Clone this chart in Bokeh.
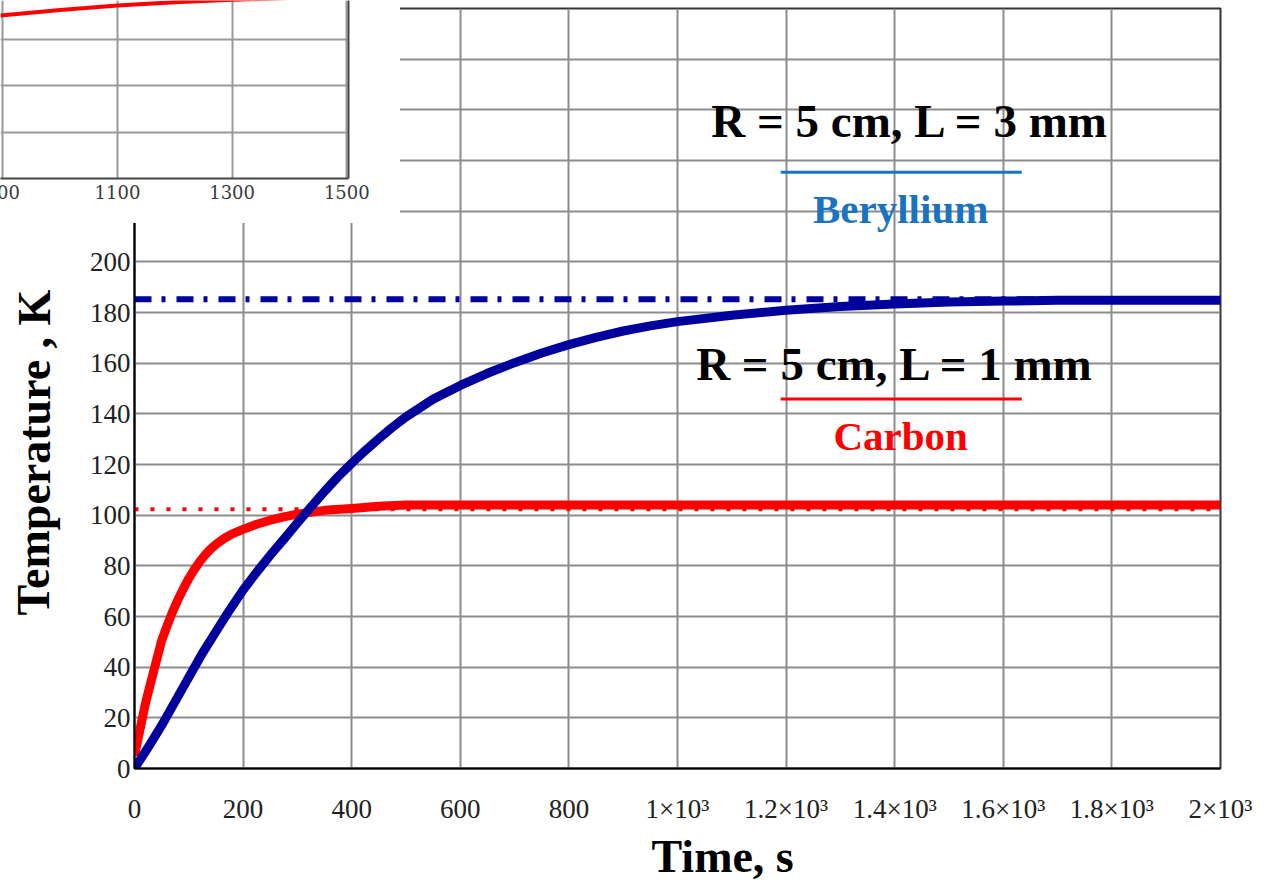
from bokeh.plotting import figure
from bokeh.models import Range1d, FixedTicker, Label, LinearAxis, Span, Title
from bokeh.layouts import column
from bokeh.embed import file_html
from bokeh.resources import INLINE

# Heating of a disc (R = 5 cm): temperature rise vs time
# Beryllium, L = 3 mm
be_time = [0, 25, 50, 75, 100, 125, 150, 175, 200, 225, 250, 275, 300, 325, 350, 375,
           400, 425, 450, 475, 500, 550, 600, 650, 700, 750, 800, 850, 900, 950, 1000,
           1100, 1200, 1300, 1400, 1500, 1600, 1700, 1800, 1900, 2000]
be_temp = [0, 8.3, 17, 26.5, 36, 45.5, 54, 62.5, 70.5, 77.5, 84.2, 90.5, 97, 103.2, 109.4,
           115.2, 120.5, 125.5, 130.2, 134.7, 138.8, 145.8, 151.2, 156, 160.2, 164, 167.3,
           170.2, 172.7, 174.7, 176.4, 178.9, 180.9, 182.4, 183.4, 184.1, 184.5, 184.8,
           184.8, 184.8, 184.8]

# Carbon, L = 1 mm
c_time = [0, 10, 20, 30, 40, 50, 60, 70, 80, 90, 100, 110, 120, 130, 140, 150, 165, 180,
          200, 225, 250, 275, 300, 350, 400, 450, 500, 600, 800, 1000, 1200, 1400, 1600,
          1800, 2000]
c_temp = [5, 15.3, 25.5, 34, 42.2, 50.5, 56.3, 61.8, 66.6, 71, 75, 78.5, 81.6, 84.3, 86.6,
          88.5, 90.8, 92.6, 94.4, 96.4, 98, 99.3, 100.4, 101.9, 102.6, 103.5, 104, 104, 104,
          104, 104, 104, 104, 104, 104]

# steady-state temperatures
be_steady = 185.2
c_steady = 102.3

x_ticks = [0, 200, 400, 600, 800, 1000, 1200, 1400, 1600, 1800, 2000]
x_tick_labels = ["0", "200", "400", "600", "800", "1×10³", "1.2×10³", "1.4×10³",
                 "1.6×10³", "1.8×10³", "2×10³"]
y_ticks = [0, 20, 40, 60, 80, 100, 120, 140, 160, 180, 200, 220]
y_grid = [0, 20, 40, 60, 80, 100, 120, 140, 160, 180, 200, 220, 240, 260, 280, 300]

# small chart pasted at the top-left corner
inset_x = [896, 1000, 1100, 1200, 1300, 1400]
inset_y = [3.52, 3.64, 3.74, 3.81, 3.86, 3.90]
inset_ticks = [900, 1100, 1300, 1500]
inset_grid_y = [1, 2, 3]

SERIF = "Liberation Serif"
NAVY = "#00009C"
RED = "#FF0000"
LIGHT_BLUE = "#1A73C1"
GRID = "#8C8C8C"

# ---------------- main chart ----------------
p = figure(width=1266, height=884, x_range=Range1d(0, 2000), y_range=Range1d(0, 300),
           output_backend="svg", toolbar_location=None,
           min_border_left=134, min_border_right=46, min_border_top=8, min_border_bottom=116,
           background_fill_color="white", border_fill_color="white")
p.frame_align = False
p.outline_line_color = "#333333"
p.outline_line_width = 2

xa = p.xaxis[0]
ya = p.yaxis[0]
xa.ticker = FixedTicker(ticks=x_ticks)
xa.major_label_overrides = {t: s for t, s in zip(x_ticks, x_tick_labels)}
ya.ticker = FixedTicker(ticks=y_ticks)
for ax in (xa, ya):
    ax.axis_line_color = "black"
    ax.axis_line_width = 2
    ax.major_tick_line_color = None
    ax.minor_tick_line_color = None
    ax.major_tick_out = 0
    ax.major_tick_in = 0
    ax.major_label_text_font = SERIF
    ax.major_label_text_font_size = "27px"
    ax.major_label_text_color = "#222222"
xa.major_label_standoff = 25
ya.major_label_standoff = 4

p.xgrid.ticker = FixedTicker(ticks=x_ticks)
p.ygrid.ticker = FixedTicker(ticks=y_grid)
p.grid.grid_line_color = GRID
p.grid.grid_line_width = 2

# x axis title
p.add_layout(Title(text="Time, s", align="left", offset=517, standoff=5,
                   vertical_align="bottom",
                   text_font=SERIF, text_font_style="bold", text_font_size="46px",
                   text_color="black"), "below")

# steady-state reference levels, drawn beneath the curves
p.add_layout(Span(location=be_steady, dimension="width", line_color=NAVY, line_width=6,
                  line_dash="17 10 4 11", level="underlay"))
p.add_layout(Span(location=c_steady, dimension="width", line_color=RED, line_width=4,
                  line_dash="4 12", level="underlay"))

p.line(c_time, c_temp, line_color=RED, line_width=9, line_join="round")
p.line(be_time, be_temp, line_color=NAVY, line_width=9, line_join="round")

# case captions with coloured key lines
captions = [
    (1429, 255.4, "R = 5 cm, L = 3 mm", "black", "47px"),
    (1411, 220.7, "Beryllium", LIGHT_BLUE, "41px"),
    (1401, 159.8, "R = 5 cm, L = 1 mm", "black", "47px"),
    (1411, 131.4, "Carbon", RED, "41px"),
]
for cx, cy, txt, col, size in captions:
    p.add_layout(Label(x=cx, y=cy, text=txt, text_color=col, text_font=SERIF,
                       text_font_style="bold", text_font_size=size,
                       text_align="center", text_baseline="middle"))
p.segment(x0=[1190, 1190], y0=[235.4, 145.9], x1=[1634, 1634], y1=[235.4, 145.9],
          line_color=[LIGHT_BLUE, RED], line_width=3)

# ---------------- y axis title, on a transparent strip left of the axis ----------------
ytitle = figure(width=70, height=420, x_range=Range1d(0, 70), y_range=Range1d(0, 420),
                output_backend="svg", toolbar_location=None,
                x_axis_location=None, y_axis_location=None,
                min_border_left=0, min_border_right=0, min_border_top=0, min_border_bottom=0,
                background_fill_alpha=0, border_fill_alpha=0)
ytitle.frame_align = False
ytitle.outline_line_color = None
ytitle.grid.visible = False
ytitle.add_layout(Label(x=33.5, y=218, text="Temperature , K", angle=1.5707963,
                        text_font=SERIF, text_font_style="bold", text_font_size="46px",
                        text_align="center", text_baseline="middle", text_color="black"))
ytitle.styles = {"position": "absolute", "left": "0px", "top": "250px", "z-index": "5"}

# ---------------- corner chart ----------------
inset = figure(width=440, height=223, x_range=Range1d(896, 1503), y_range=Range1d(0, 3.846),
               output_backend="svg", toolbar_location=None, y_axis_location=None,
               min_border_left=40, min_border_right=52, min_border_top=0, min_border_bottom=45,
               background_fill_color="white", border_fill_color="white")
inset.frame_align = False
inset.outline_line_color = None
ix = inset.xaxis[0]
ix.ticker = FixedTicker(ticks=inset_ticks)
ix.axis_line_color = "#444444"
ix.axis_line_width = 2
ix.major_tick_line_color = None
ix.minor_tick_line_color = None
ix.major_tick_out = 0
ix.major_tick_in = 0
ix.major_label_standoff = 6
ix.major_label_text_font = "DejaVu Serif"
ix.major_label_text_font_size = "18px"
ix.major_label_text_color = "#3A3A3A"
right = LinearAxis(ticker=FixedTicker(ticks=[]), axis_line_color="#444444", axis_line_width=2,
                   major_tick_line_color=None, minor_tick_line_color=None,
                   major_tick_out=0, major_tick_in=0)
inset.add_layout(right, "right")
inset.xgrid.ticker = FixedTicker(ticks=inset_ticks)
inset.ygrid.ticker = FixedTicker(ticks=inset_grid_y)
inset.grid.grid_line_color = "#999999"
inset.grid.grid_line_width = 2
inset.line(inset_x, inset_y, line_color=RED, line_width=4)
inset.styles = {"position": "absolute", "left": "-40px", "top": "0px", "z-index": "10"}

root = column(p, ytitle, inset)
open("out.html", "w").write(file_html(root, INLINE))
